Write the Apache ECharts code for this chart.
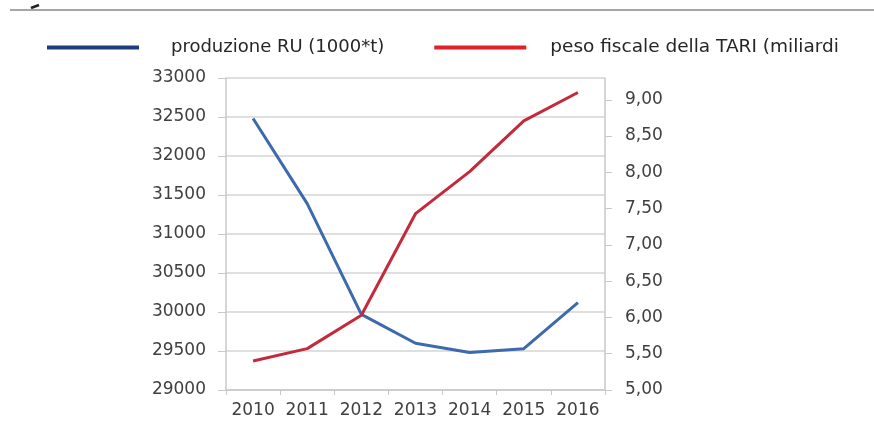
<!DOCTYPE html>
<html>
<head>
<meta charset="utf-8">
<script src="https://cdn.jsdelivr.net/npm/echarts@6/dist/echarts.min.js"></script>
<style>
html,body{margin:0;padding:0;background:#fff;}
#main{width:874px;height:423px;}
</style>
</head>
<body>
<div id="main"></div>
<script>
var years = ['2010','2011','2012','2013','2014','2015','2016'];
var produzioneRU = [32480, 31390, 29970, 29600, 29480, 29530, 30120];
var pesoTARI = [5.40, 5.57, 6.03, 7.43, 8.01, 8.71, 9.10];
var seriesNames = ['produzione RU (1000*t)', 'peso fiscale della TARI (miliardi'];

var chart = echarts.init(document.getElementById('main'));
var font = 'DejaVu Sans';
var axisGray = '#c8c8c8';
chart.setOption({
  animation: false,
  backgroundColor: '#ffffff',
  graphic: [
    {type:'line', shape:{x1:10,y1:10,x2:874,y2:10}, style:{stroke:'#a6a6a6', lineWidth:2}},
    {type:'line', shape:{x1:31,y1:8,x2:39,y2:5}, style:{stroke:'#222', lineWidth:2.5}}
  ],
  legend: {
    left: 42, top: 33,
    itemWidth: 92, itemHeight: 4,
    itemGap: 50,
    icon: 'rect',
    data: [
      {name: seriesNames[0], itemStyle: {color: '#1f3d78'}},
      {name: seriesNames[1], itemStyle: {color: '#e0202a'},
       textStyle: {padding: [0,0,0,19], fontSize: 18.5}}
    ],
    textStyle: {fontFamily: font, fontSize: 18, color: '#262626', padding: [0,0,0,27]}
  },
  grid: {left: 226, right: 269, top: 78, bottom: 33, containLabel: false},
  xAxis: {
    type: 'category',
    data: years,
    boundaryGap: true,
    axisLine: {show: true, lineStyle: {color: axisGray, width: 1.5}},
    axisTick: {show: true, length: 5, interval: 0, lineStyle: {color: axisGray}},
    axisLabel: {fontFamily: font, fontSize: 17, color: '#404040', margin: 12, interval: 0},
    splitLine: {show: false}
  },
  yAxis: [
    {
      type: 'value', position: 'left',
      min: 29000, max: 33000, interval: 500,
      axisLine: {show: true, lineStyle: {color: axisGray, width: 1.5}},
      axisTick: {show: true, length: 8, lineStyle: {color: axisGray}},
      axisLabel: {fontFamily: font, fontSize: 17, color: '#404040', margin: 20,
        formatter: function (v) { return String(v); }},
      splitLine: {show: true, lineStyle: {color: '#d4d4d4', width: 1.5}}
    },
    {
      type: 'value', position: 'right',
      min: 5, max: 9.3, interval: 0.5,
      axisLine: {show: true, lineStyle: {color: axisGray, width: 1.5}},
      axisTick: {show: true, length: 7, lineStyle: {color: axisGray}},
      axisLabel: {
        fontFamily: font, fontSize: 17, color: '#404040', margin: 20,
        showMaxLabel: false,
        formatter: function (v) { return v > 9.01 ? '' : v.toFixed(2).replace('.', ','); }
      },
      splitLine: {show: false}
    }
  ],
  series: [
    {
      name: seriesNames[0], type: 'line', yAxisIndex: 0,
      data: produzioneRU, symbol: 'none', smooth: false,
      lineStyle: {color: '#3d69ad', width: 3},
      itemStyle: {color: '#3d69ad'}
    },
    {
      name: seriesNames[1], type: 'line', yAxisIndex: 1,
      data: pesoTARI, symbol: 'none', smooth: false,
      lineStyle: {color: '#c42a3c', width: 3},
      itemStyle: {color: '#c42a3c'}
    }
  ]
});
</script>
</body>
</html>
